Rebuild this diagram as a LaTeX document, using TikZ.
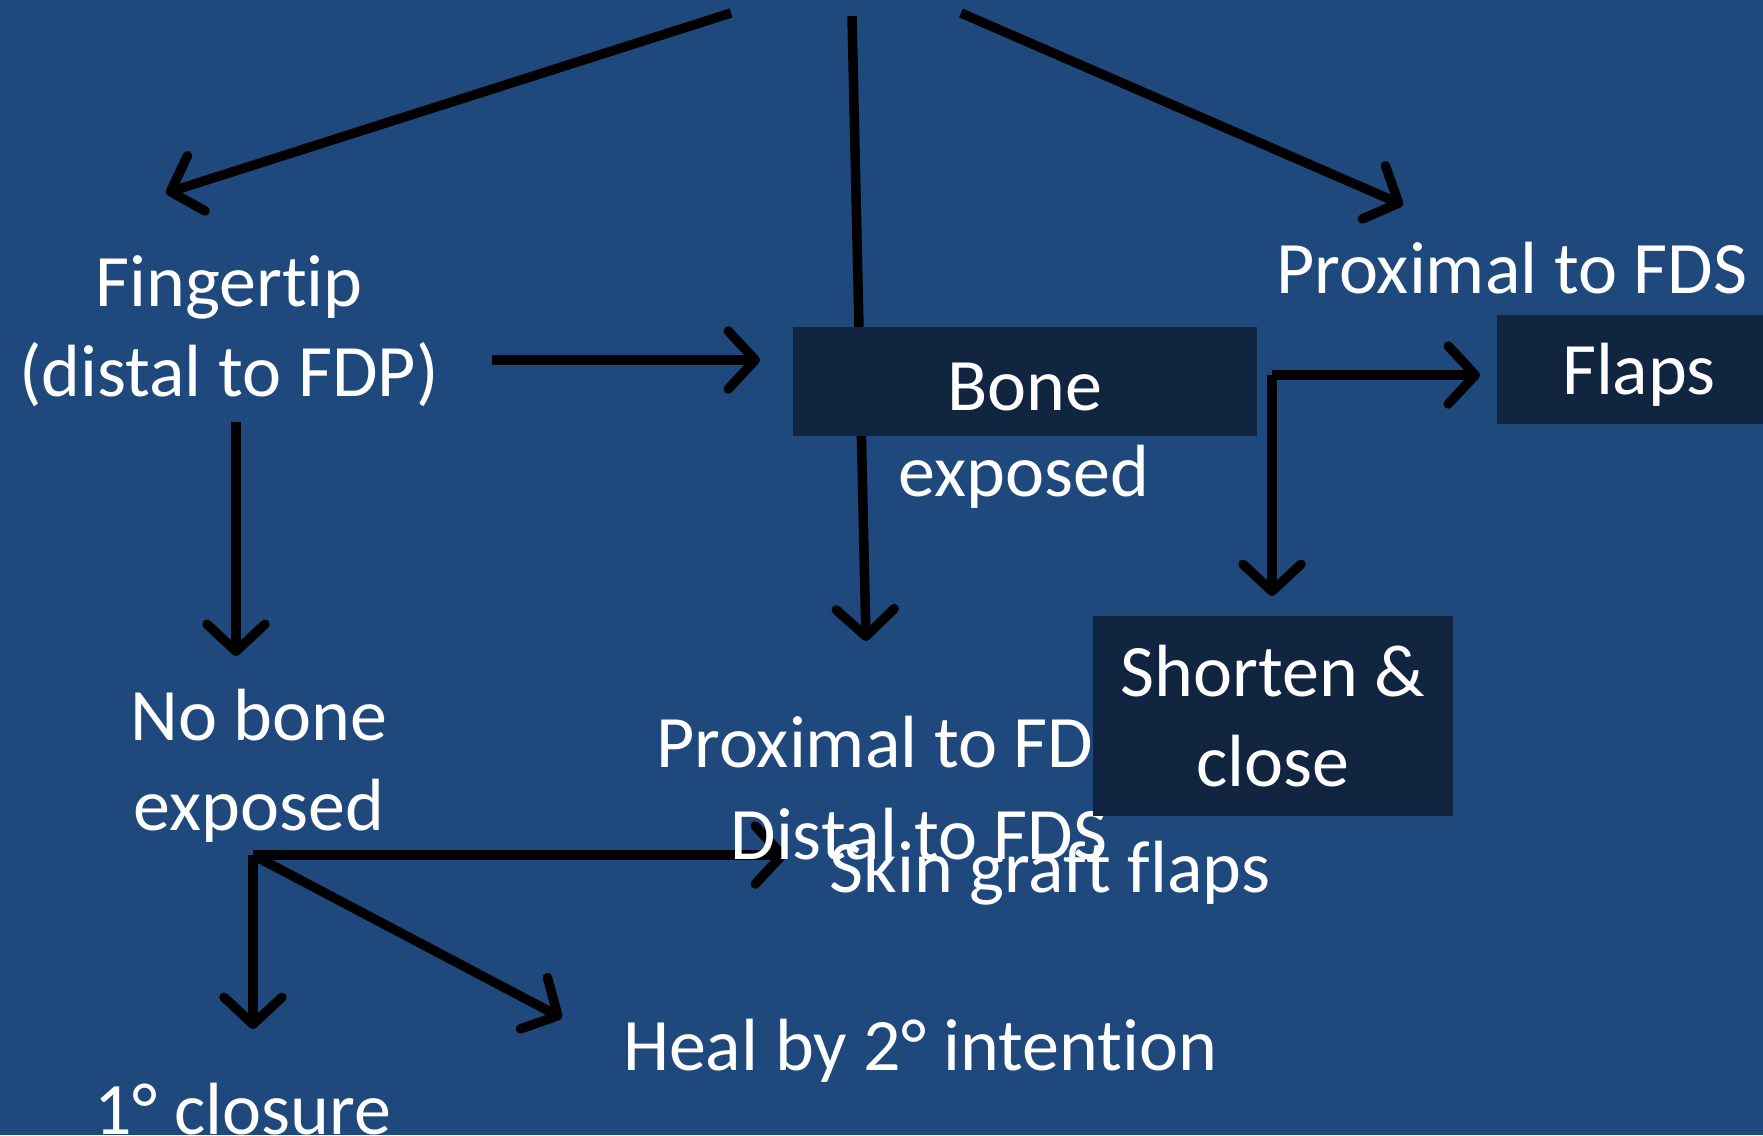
\documentclass[tikz,border=0pt]{standalone}
\usepackage{fontspec}
\setmainfont{Carlito}[Ligatures=NoCommon]
\usetikzlibrary{arrows.meta}
\definecolor{bgblue}{HTML}{1F497D}
\definecolor{boxdark}{HTML}{112440}
\pgfdeclarelayer{back}
\pgfsetlayers{back,main}
\begin{document}
\begin{tikzpicture}[x=1pt,y=-1pt,
  lbl/.style={text=white,font=\fontsize{74}{90}\selectfont,inner sep=0pt,align=center},
  darkbox/.style={lbl,fill=boxdark},
  conn/.style={line width=9.5pt,draw=black,-{Straight Barb[length=27pt,width=58pt,round]}}]
\useasboundingbox (0,0) rectangle (1763,1135);
% free texts
\node[lbl] (tip) at (229,331) {Fingertip\\(distal to FDP)};
\node[lbl] (exp) at (1024,477) {exposed};
\node[lbl] (prox1) at (1512,268) {Proximal to FDS};
\node[lbl] (nobone) at (259,766) {No bone\\exposed};
\node[lbl] (prox2) at (892,742) {Proximal to FDS};
\node[lbl] (distal) at (919,834) {Distal to FDS};
\node[lbl] (skin) at (1050,873) {Skin graft flaps};
\node[lbl] (heal) at (920,1051) {Heal by 2° intention};
\node[lbl] (prim) at (243,1109) {1° closure};
% boxes
\node[darkbox,minimum width=464pt,minimum height=109pt] (bone) at (1025,381.5) {\raisebox{-5.5pt}[\height][\depth]{Bone}};
\node[darkbox,minimum width=284pt,minimum height=109pt] (flaps) at (1639,369.5) {\raisebox{-5.5pt}[\height][\depth]{Flaps}};
\node[darkbox,minimum width=360pt,minimum height=200pt] (short) at (1273,716) {Shorten \&\\close};
% connector end points
\coordinate (o1) at (731,13);  \coordinate (t1) at (166,193);
\coordinate (o2) at (852,16);  \coordinate (t2) at (866,641);
\coordinate (o3) at (961,13);  \coordinate (t3) at (1403,205);
\coordinate (a1) at (492,360); \coordinate (a1e) at (760,360);
\coordinate (b1) at (236,422); \coordinate (b1e) at (236,656);
\coordinate (c0) at (1272,375); \coordinate (c1) at (1480,375); \coordinate (c2) at (1272,596);
\coordinate (f0) at (253,855); \coordinate (f1) at (787,855); \coordinate (f2) at (253,1029); \coordinate (f3) at (562,1018);
\begin{pgfonlayer}{back}
\fill[bgblue] (0,0) rectangle (1763,1135);
\draw[conn] (o1) -- (t1);
\draw[conn] (o2) -- (t2);
\draw[conn] (o3) -- (t3);
\draw[conn] (a1) -- (a1e);
\draw[conn] (b1) -- (b1e);
\draw[conn] (c0) -- (c1);
\draw[conn] (c0) -- (c2);
\draw[conn] (f0) -- (f1);
\draw[conn] (f0) -- (f2);
\draw[conn] (f0) -- (f3);
\end{pgfonlayer}
\end{tikzpicture}
\end{document}
